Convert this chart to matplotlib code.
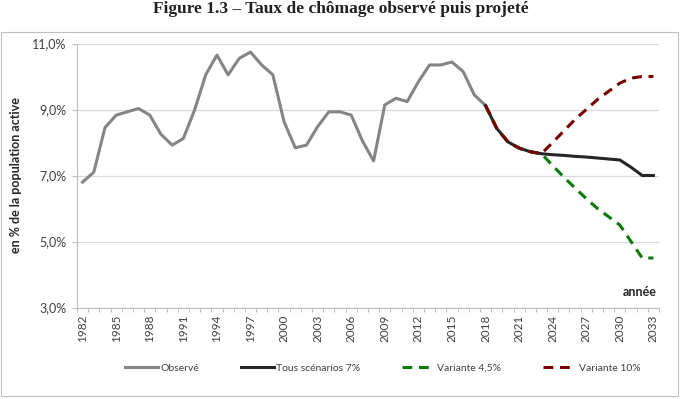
import matplotlib
matplotlib.use("Agg")
import matplotlib.pyplot as plt
from matplotlib.patches import Rectangle
from matplotlib.ticker import FuncFormatter, MultipleLocator

years_obs = list(range(1982, 2019))
observe = [6.8, 7.1, 8.45, 8.83, 8.93, 9.03, 8.83, 8.25, 7.92, 8.12,
           8.98, 10.05, 10.65, 10.05, 10.55, 10.74, 10.35, 10.05, 8.63, 7.84,
           7.92, 8.48, 8.93, 8.93, 8.83, 8.05, 7.44, 9.14, 9.34, 9.24,
           9.84, 10.35, 10.35, 10.44, 10.15, 9.44, 9.12]

years_proj = list(range(2018, 2034))
tous_scenarios = [9.12, 8.43, 8.02, 7.83, 7.72, 7.66, 7.63, 7.61, 7.58, 7.56,
                  7.53, 7.50, 7.47, 7.25, 7.0, 7.0]
variante_45 = [9.12, 8.43, 8.02, 7.83, 7.72, 7.66, 7.3, 6.95, 6.62, 6.3,
               6.0, 5.75, 5.5, 5.0, 4.5, 4.5]
variante_10 = [9.12, 8.43, 8.02, 7.83, 7.72, 7.66, 8.0, 8.35, 8.7, 9.0,
               9.3, 9.55, 9.8, 9.95, 10.0, 10.0]

tick_years = list(range(1982, 2034, 3))

plt.rcParams['font.family'] = ['Lato', 'DejaVu Sans']

W, H = 686, 399
fig = plt.figure(figsize=(W / 100, H / 100), dpi=100)

# outer chart border
fig.patches.append(Rectangle((1 / W, 1 - 396 / H), 677 / W, 364 / H,
                             transform=fig.transFigure, fill=False,
                             edgecolor='#bfbfbf', linewidth=0.8))

left, right = 77 / W, 659 / W
top, bottom = 1 - 43.5 / H, 1 - 307.5 / H
ax = fig.add_axes([left, bottom, right - left, top - bottom])

lw = 2.2
ax.plot(years_obs, observe, color='#858585', lw=lw, label='Observé',
        solid_joinstyle='round', zorder=3)
ax.plot(years_proj, tous_scenarios, color='#262626', lw=lw,
        label='Tous scénarios 7%', solid_joinstyle='round', zorder=4)
l1, = ax.plot(years_proj, variante_45, color='#0a7a0a', lw=lw,
              label='Variante 4,5%', zorder=5)
l2, = ax.plot(years_proj, variante_10, color='#7a0000', lw=lw,
              label='Variante 10%', zorder=6)
for l in (l1, l2):
    l.set_dashes([3.2, 2.2])

ax.set_xlim(1981.5, 2033.5)
ax.set_ylim(3, 11)
ax.set_yticks([3, 5, 7, 9, 11])
ax.yaxis.set_major_formatter(FuncFormatter(lambda v, p: f"{v:.1f}%".replace('.', ',')))
ax.grid(axis='y', color='#d9d9d9', lw=0.9)
ax.set_axisbelow(True)

ax.set_xticks(tick_years)
ax.set_xticklabels([str(y) for y in tick_years], rotation=90, fontsize=8.5,
                   color='#404040')
ax.xaxis.set_minor_locator(MultipleLocator(1, offset=0.5))
ax.tick_params(axis='x', which='major', length=0, pad=5)
ax.tick_params(axis='x', which='minor', length=3, color='#bfbfbf', width=0.8)
ax.tick_params(axis='y', length=3.6, color='#bfbfbf', width=0.8,
               labelsize=9, labelcolor='#404040', pad=4)

for s in ('top', 'right'):
    ax.spines[s].set_visible(False)
for s in ('left', 'bottom'):
    ax.spines[s].set_color('#bfbfbf')
    ax.spines[s].set_linewidth(0.8)

ax.set_ylabel('en % de la population active', fontsize=9, fontweight='bold',
              color='#262626', labelpad=7)
ax.text(2033.3, 3.3, 'année', fontsize=9, fontweight='bold',
        color='#262626', ha='right', va='bottom')

leg = fig.legend(loc='center left', bbox_to_anchor=(125 / W, 1 - 368 / H), ncol=4,
                 frameon=False, fontsize=7.5, handlelength=3.2,
                 columnspacing=4.0, handletextpad=0.2, borderpad=0,
                 borderaxespad=0, labelcolor='#404040')

fig.text(0.497, 1 - 13 / H, 'Figure 1.3 – Taux de chômage observé puis projeté',
         family=['Liberation Serif', 'DejaVu Serif'], fontweight='bold',
         fontsize=12.5, ha='center', va='baseline', color='#202020')

fig.savefig('out.png', dpi=100)
